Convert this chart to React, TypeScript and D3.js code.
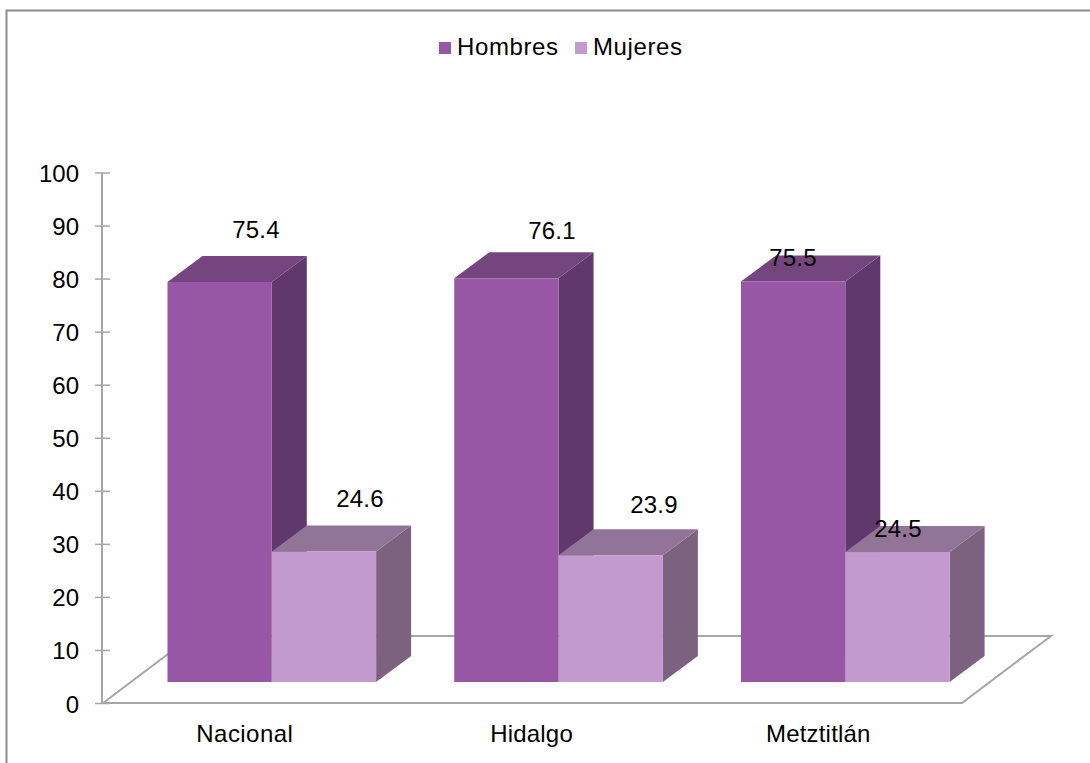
import React from "react";
import * as d3 from "d3";

const categories = ["Nacional", "Hidalgo", "Metztitlán"];
const seriesNames = ["Hombres", "Mujeres"];
const hombres = [75.4, 76.1, 75.5];
const mujeres = [24.6, 23.9, 24.5];
const yTicks = [0, 10, 20, 30, 40, 50, 60, 70, 80, 90, 100];

const faces = [
  { front: "#9857a5", top: "#75457f", side: "#61386b" },
  { front: "#c29acd", top: "#937499", side: "#7d6280" },
];
const FONT = "'Liberation Sans', Arial, sans-serif";
const GRID = "#a6a6a6";
const FS = 24;

const y = d3.scaleLinear().domain([0, 100]).range([703.5, 173]);
const xBand = d3.scaleBand<string>().domain(categories).range([167.5, 1027.75]).paddingInner(0).paddingOuter(0);
const barW = 104.3;
const dx = 35;
const dy = 26;
const lift = 21.5;

const labelPos = [
  [[256, 230], [360, 499]],
  [[552, 231], [654, 505]],
  [[793, 258], [898, 529]],
];

export default function App() {
  const line = d3.line();
  const floor = line([[103, 703], [192, 636], [1051, 636], [962, 703], [103, 703]]) as string;
  return (
    <svg width={1090} height={763} style={{ position: "absolute", left: 0, top: 0, background: "#fff" }} fontFamily={FONT}>
      <rect x={6.5} y={10.5} width={1100} height={780} fill="#fff" stroke="#8c8c8c" strokeWidth={2} />

      <path d={floor} fill="none" stroke={GRID} strokeWidth={2} />
      <line x1={102} x2={102} y1={y(100)} y2={y(0)} stroke={GRID} strokeWidth={2} />
      {yTicks.map((t) => (
        <g key={t}>
          <line x1={95} x2={110} y1={y(t)} y2={y(t)} stroke={GRID} strokeWidth={1.5} />
          <text x={79} y={y(t) + 9} textAnchor="end" fontSize={FS} fill="#000">{t}</text>
        </g>
      ))}

      {categories.map((c, i) => {
        const x0 = xBand(c) as number;
        return [hombres[i], mujeres[i]].map((v, s) => {
          const x = x0 + s * barW;
          const base = y(0) - lift;
          const top = y(v) - lift;
          const f = faces[s];
          return (
            <g key={c + s}>
              <path d={line([[x + barW, top], [x + barW + dx, top - dy], [x + barW + dx, base - dy], [x + barW, base]]) + "Z"} fill={f.side} />
              <path d={line([[x, top], [x + dx, top - dy], [x + barW + dx, top - dy], [x + barW, top]]) + "Z"} fill={f.top} />
              <rect x={x} y={top} width={barW} height={base - top} fill={f.front} />
            </g>
          );
        });
      })}

      {categories.map((c, i) =>
        [hombres[i], mujeres[i]].map((v, s) => (
          <text key={c + s} x={labelPos[i][s][0]} y={labelPos[i][s][1] + 8} textAnchor="middle" fontSize={FS} letterSpacing={0.2} fill="#000">
            {v.toFixed(1)}
          </text>
        ))
      )}

      {categories.map((c) => (
        <text key={c} x={(xBand(c) as number) + barW - 27} y={742} textAnchor="middle" fontSize={FS} letterSpacing={c === "Nacional" ? 0.45 : 0.2} fill="#000">{c}</text>
      ))}

      <rect x={439} y={42} width={12} height={12} fill={faces[0].front} />
      <text x={457} y={55} fontSize={FS} letterSpacing={0.6} fill="#000">{seriesNames[0]}</text>
      <rect x={575} y={42} width={12} height={12} fill={faces[1].front} />
      <text x={593} y={55} fontSize={FS} letterSpacing={0.6} fill="#000">{seriesNames[1]}</text>
    </svg>
  );
}
